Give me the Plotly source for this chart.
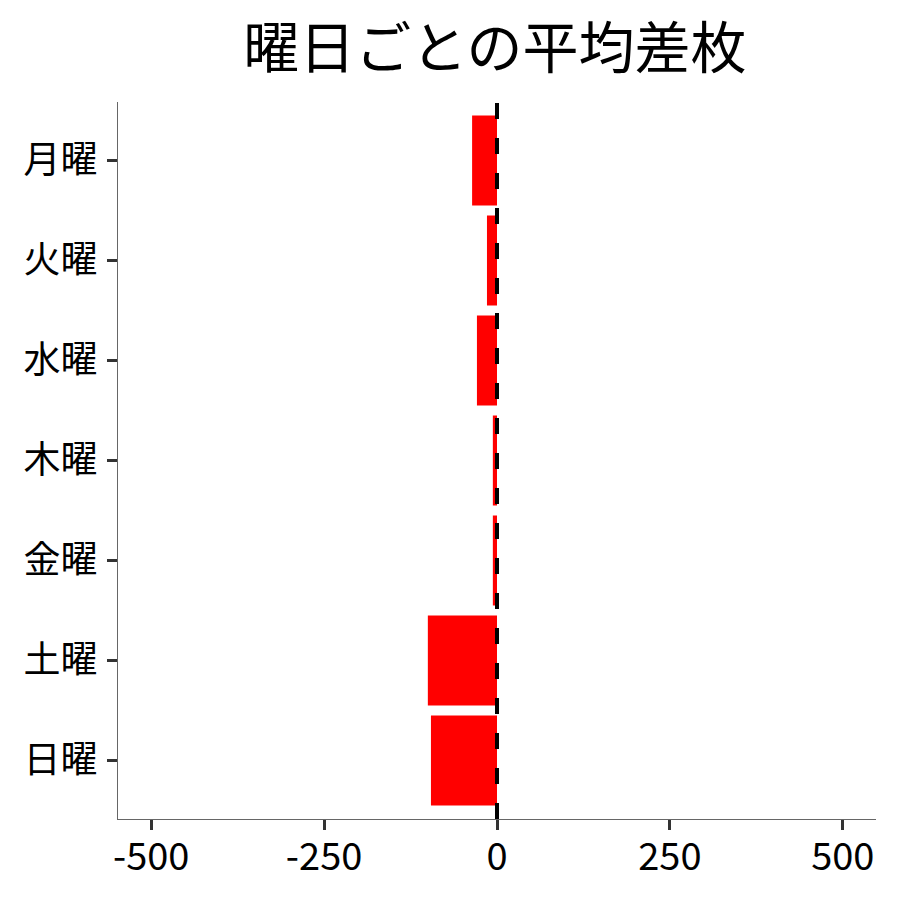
import plotly.graph_objects as go

# 曜日ごとの平均差枚
weekdays = ["月曜", "火曜", "水曜", "木曜", "金曜", "土曜", "日曜"]
avg_diff = [-36, -14.5, -29, -6, -6, -100, -95.5]
x_ticks = [-500, -250, 0, 250, 500]

FONT = "Noto Sans CJK JP"

fig = go.Figure(
    go.Bar(
        x=avg_diff,
        y=weekdays,
        orientation="h",
        marker=dict(color="#ff0000", line=dict(width=0)),
        width=0.9,
    )
)

# zero reference line
fig.add_shape(
    type="line", xref="x", yref="paper",
    x0=0, x1=0, y0=0, y1=1,
    line=dict(color="black", width=4, dash="16px,19px"),
    layer="above",
)

fig.update_layout(
    width=900,
    height=900,
    margin=dict(l=110, r=32, t=94, b=89),
    paper_bgcolor="white",
    plot_bgcolor="white",
    showlegend=False,
    font=dict(family=FONT, color="black"),
    title=dict(
        text="曜日ごとの平均差枚",
        x=0.541, xanchor="center",
        y=0.955, yanchor="middle",
        font=dict(family=FONT, size=56, color="black"),
    ),
)

fig.update_xaxes(
    range=[-548, 548],
    tickvals=x_ticks,
    ticktext=[str(v) for v in x_ticks],
    showgrid=False,
    zeroline=False,
    showline=True,
    linecolor="#666666",
    linewidth=1.2,
    ticks="outside",
    ticklen=10,
    tickwidth=3,
    tickcolor="#333333",
    ticklabelstandoff=-6,
    tickfont=dict(family=FONT, size=38, color="black"),
)

fig.update_yaxes(
    categoryorder="array",
    categoryarray=weekdays,
    range=[6.585, -0.585],
    showgrid=False,
    zeroline=False,
    showline=True,
    linecolor="#666666",
    linewidth=1.2,
    ticks="outside",
    ticklen=10,
    tickwidth=3,
    tickcolor="#333333",
    ticklabelstandoff=2,
    tickfont=dict(family=FONT, size=37, color="black"),
)

fig.write_html("out.html")
